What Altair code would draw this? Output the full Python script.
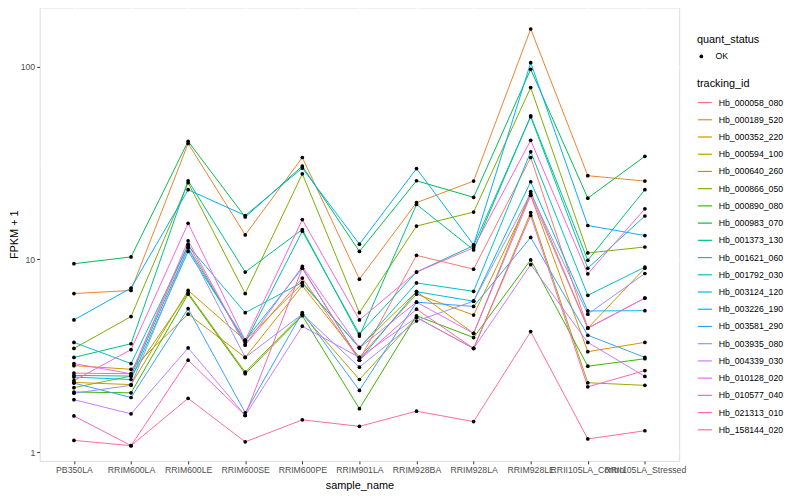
import altair as alt
import pandas as pd

samples = ["PB350LA", "RRIM600LA", "RRIM600LE", "RRIM600SE", "RRIM600PE",
           "RRIM901LA", "RRIM928BA", "RRIM928LA", "RRIM928LE",
           "RRII105LA_Control", "RRII105LA_Stressed"]

tracking_ids = ["Hb_000058_080", "Hb_000189_520", "Hb_000352_220", "Hb_000594_100",
                "Hb_000640_260", "Hb_000866_050", "Hb_000890_080", "Hb_000983_070",
                "Hb_001373_130", "Hb_001621_060", "Hb_001792_030", "Hb_003124_120",
                "Hb_003226_190", "Hb_003581_290", "Hb_003935_080", "Hb_004339_030",
                "Hb_010128_020", "Hb_010577_040", "Hb_021313_010", "Hb_158144_020"]

colors = ["#F8766D", "#EA8331", "#D89000", "#C09B00", "#A3A500", "#7CAE00",
          "#39B600", "#00BB4E", "#00BF7D", "#00C1A3", "#00BFC4", "#00BAE0",
          "#00B0F6", "#35A2FF", "#9590FF", "#C77CFF", "#E76BF3", "#FA62DB",
          "#FF62BC", "#FF6C91"]

# FPKM + 1 per sample (order of `samples`)
hb_000058_080 = [2.57, 2.55, 12.0, 3.6, 8.0, 3.0, 10.5, 8.9, 33.8, 4.4, 6.3]
hb_000189_520 = [6.65, 6.9, 40.0, 13.4, 33.8, 7.9, 19.7, 25.5, 157.0, 27.2, 25.5]
hb_000352_220 = [2.81, 2.69, 5.2, 3.1, 7.3, 3.1, 6.6, 5.14, 21.5, 3.32, 3.71]
hb_000594_100 = [2.30, 2.24, 6.9, 3.8, 7.5, 3.5, 6.8, 4.13, 22.5, 4.4, 9.0]
hb_000640_260 = [2.16, 2.48, 6.7, 2.6, 5.2, 2.38, 5.0, 3.45, 17.5, 2.29, 2.22]
hb_000866_050 = [3.45, 5.05, 25.0, 6.65, 27.8, 5.29, 14.9, 17.6, 78.0, 10.8, 11.6]
hb_000890_080 = [2.05, 2.03, 6.6, 2.55, 5.1, 1.68, 5.1, 3.93, 9.94, 2.79, 3.05]
hb_000983_070 = [9.5, 10.3, 41.0, 16.6, 30.5, 11.0, 25.6, 21.0, 97.0, 20.8, 34.3]
hb_001373_130 = [3.10, 3.65, 25.6, 8.6, 14.3, 4.0, 19.3, 11.2, 55.6, 9.9, 23.0]
hb_001621_060 = [2.50, 2.48, 11.5, 3.7, 14.0, 4.1, 8.6, 11.8, 55.0, 9.0, 16.8]
hb_001792_030 = [3.71, 2.88, 11.8, 5.29, 7.6, 3.47, 7.55, 6.83, 36.2, 6.51, 9.12]
hb_003124_120 = [2.45, 2.38, 11.0, 3.8, 9.0, 3.0, 6.8, 6.07, 25.3, 5.4, 5.42]
hb_003226_190 = [4.85, 7.1, 23.0, 16.9, 29.8, 12.0, 29.6, 11.9, 105.0, 15.0, 13.3]
hb_003581_290 = [2.28, 1.92, 5.55, 1.6, 5.3, 2.09, 6.0, 5.70, 13.0, 4.04, 3.1]
hb_003935_080 = [2.02, 2.22, 11.5, 3.1, 5.2, 2.76, 4.79, 6.07, 22.0, 5.2, 8.45]
hb_004339_030 = [1.87, 1.58, 3.47, 1.55, 4.5, 3.1, 5.0, 3.45, 9.4, 3.71, 2.47]
hb_010128_020 = [2.88, 2.55, 12.5, 3.6, 9.2, 3.47, 6.0, 4.13, 21.5, 4.4, 6.3]
hb_010577_040 = [2.35, 3.40, 15.4, 3.8, 16.1, 4.85, 8.6, 11.5, 41.5, 8.42, 18.3]
hb_021313_010 = [1.54, 1.08, 3.0, 1.55, 9.0, 3.0, 5.52, 3.45, 16.9, 2.18, 2.65]
hb_158144_020 = [1.15, 1.08, 1.90, 1.13, 1.47, 1.36, 1.63, 1.44, 4.22, 1.17, 1.29]

series = [hb_000058_080, hb_000189_520, hb_000352_220, hb_000594_100, hb_000640_260,
          hb_000866_050, hb_000890_080, hb_000983_070, hb_001373_130, hb_001621_060,
          hb_001792_030, hb_003124_120, hb_003226_190, hb_003581_290, hb_003935_080,
          hb_004339_030, hb_010128_020, hb_010577_040, hb_021313_010, hb_158144_020]

y_major = [1, 10, 100]
y_minor = [3.1623, 31.623]

rows = []
for tid, vals in zip(tracking_ids, series):
    for s, v in zip(samples, vals):
        rows.append({"tracking_id": tid, "sample_name": s, "fpkm": v, "quant_status": "OK"})
df = pd.DataFrame(rows)
minor_df = pd.DataFrame({"fpkm": y_minor})

FONT = "Liberation Sans"

x_enc = alt.X("sample_name:N", sort=samples,
              scale=alt.Scale(type="point", padding=0.6),
              axis=alt.Axis(title="sample_name", labelAngle=0, grid=True,
                            gridColor="white", gridWidth=1.07, domain=False,
                            tickColor="#333333", tickSize=3, tickWidth=1,
                            labelColor="#4D4D4D", labelFontSize=8.8, labelFont=FONT,
                            labelOverlap=False, labelPadding=2,
                            titleFontSize=11, titleFont=FONT, titleFontWeight="normal",
                            titleColor="black", titlePadding=5))

y_axis = alt.Axis(title="FPKM + 1", values=y_major, format="d", grid=True,
                  gridColor="white", gridWidth=1.07, domain=False,
                  tickColor="#333333", tickSize=3, tickWidth=1,
                  labelColor="#4D4D4D", labelFontSize=8.8, labelFont=FONT, labelPadding=2,
                  titleFontSize=11, titleFont=FONT, titleFontWeight="normal",
                  titleColor="black", titlePadding=1)
y_scale = alt.Scale(type="log", domain=[0.9, 203], nice=False)

minor = alt.Chart(minor_df).mark_rule(color="white", strokeWidth=0.53).encode(
    y=alt.Y("fpkm:Q", scale=y_scale, axis=y_axis)
)

lines = alt.Chart(df).mark_line(strokeWidth=1).encode(
    x=x_enc,
    y=alt.Y("fpkm:Q", scale=y_scale, axis=y_axis),
    color=alt.Color("tracking_id:N",
                    scale=alt.Scale(domain=tracking_ids, range=colors),
                    legend=alt.Legend(title="tracking_id", orient="none",
                                      legendX=664, legendY=71, symbolType="stroke",
                                      symbolSize=200, symbolStrokeWidth=1.2,
                                      labelFontSize=8.8, labelFont=FONT, labelColor="black",
                                      titleFontSize=11, titleFont=FONT, titleFontWeight="normal",
                                      titleColor="black", titlePadding=6, rowPadding=4.4,
                                      padding=0, labelOffset=6)),
)

points = alt.Chart(df).mark_point(filled=True, color="black", size=14, opacity=1).encode(
    x=x_enc,
    y=alt.Y("fpkm:Q", scale=y_scale, axis=y_axis),
    shape=alt.Shape("quant_status:N", scale=alt.Scale(range=["circle"]),
                    legend=alt.Legend(title="quant_status", orient="none",
                                      legendX=664, legendY=27, symbolSize=14,
                                      symbolFillColor="black", symbolStrokeColor="black",
                                      labelFontSize=8.8, labelFont=FONT, labelColor="black",
                                      titleFontSize=11, titleFont=FONT, titleFontWeight="normal",
                                      titleColor="black", titlePadding=7, padding=0,
                                      labelOffset=10)),
)

chart = alt.layer(minor, lines, points).properties(
    width=646, height=458,
    autosize=alt.AutoSizeParams(type="none"),
    padding={"left": 32, "top": -3, "right": 114, "bottom": 37},
    background="white",
).configure_view(fill="#EBEBEB", strokeOpacity=0).configure(font=FONT)

chart.save("out.html", embed_options={"renderer": "svg", "actions": False})
